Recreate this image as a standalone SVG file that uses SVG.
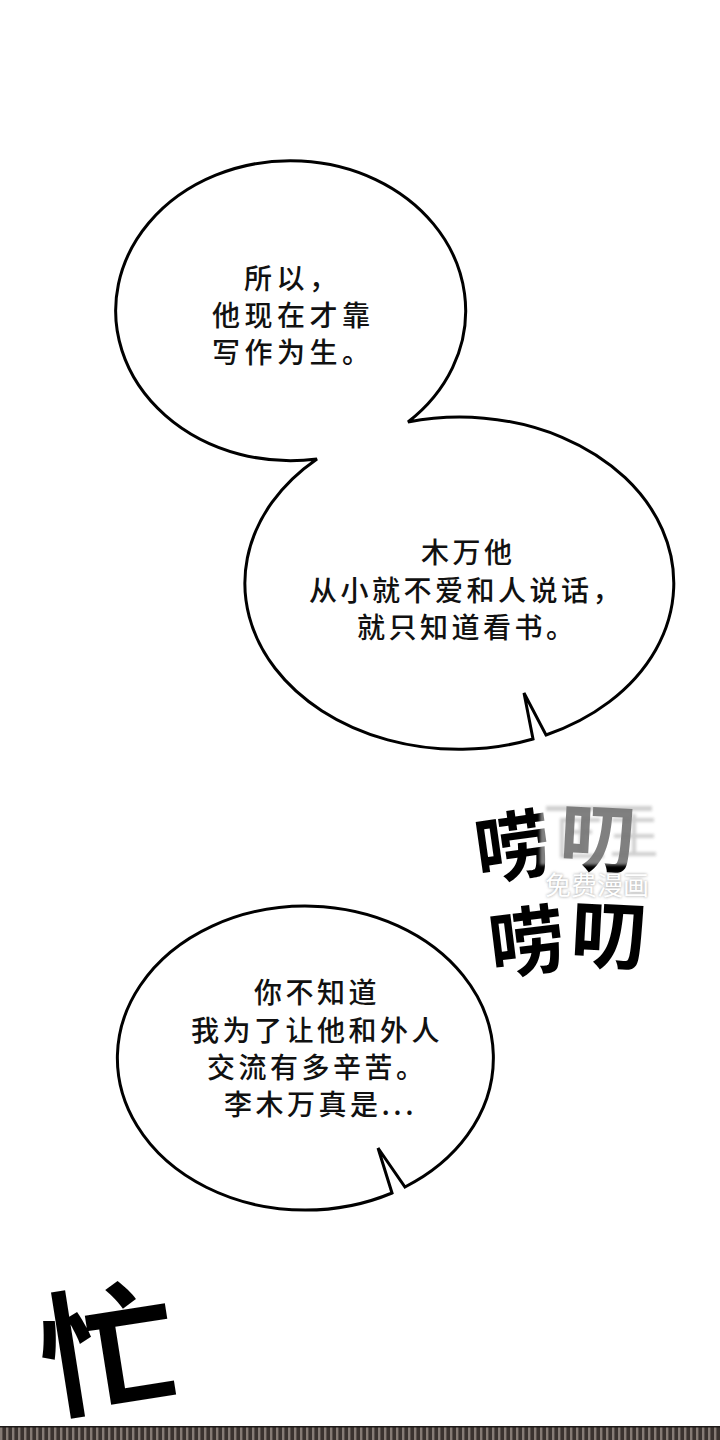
<svg xmlns="http://www.w3.org/2000/svg" width="720" height="1440" viewBox="0 0 720 1440">
<defs>
<style>
.bubble{fill:#fff;stroke:#000;stroke-width:3;stroke-linejoin:miter}
.txt{font-family:"Noto Sans CJK SC","Noto Sans CJK JP",sans-serif;font-size:28px;font-weight:500;letter-spacing:3.5px;fill:#111}
.sfx{font-family:"Noto Sans CJK SC","Noto Sans CJK JP",sans-serif;font-weight:700;fill:#000;stroke:#fff;stroke-width:3;paint-order:stroke;text-anchor:middle}
.wm{font-family:"Noto Sans CJK SC","Noto Sans CJK JP",sans-serif;font-size:26px}
</style>
<pattern id="stripes" width="6" height="14" patternUnits="userSpaceOnUse">
<rect width="6" height="14" fill="#3a322f"/>
<rect x="0" width="2.4" height="14" fill="#857a74"/>
</pattern>
<filter id="blur" x="-20%" y="-20%" width="140%" height="140%">
<feGaussianBlur stdDeviation="1.6"/>
</filter>
</defs>
<rect width="720" height="1440" fill="#fff"/>

<g id="bubble-pair">
<path class="bubble" d="M408,422 A175,150 0 1 0 317,459 A214,166 0 0 0 533,739 L524,693 L546,735 A214,166 0 0 0 408,422 Z"/>
<g id="bubble1-text" class="txt" style="letter-spacing:4.5px">
<text x="244" y="289">所以，</text>
<text x="212" y="326">他现在才靠</text>
<text x="212" y="363">写作为生。</text>
</g>
<g id="bubble2-text" class="txt">
<text x="421" y="563">木万他</text>
<text x="309" y="601">从小就不爱和人说话，</text>
<text x="357" y="638">就只知道看书。</text>
</g>
</g>

<g id="bubble3">
<path class="bubble" d="M405,1187 A188,152 0 1 0 392,1193 L378,1148 Z"/>
<g class="txt">
<text x="254" y="1003">你不知道</text>
<text x="191" y="1041">我为了让他和外人</text>
<text x="207" y="1078">交流有多辛苦。</text>
<text x="224" y="1115">李木万真是...</text>
</g>
</g>

<g id="bottom-strip">
<rect x="0" y="1427" width="720" height="13" fill="url(#stripes)"/>
<rect x="0" y="1426" width="720" height="1.5" fill="#1e1a19"/>
</g>

<g id="sfx-laodao">
<text class="sfx" x="513" y="875" font-size="76" transform="rotate(-8 513 847)">唠</text>
<text class="sfx" x="598" y="866" font-size="76" transform="rotate(3 598 838)">叨</text>
<text class="sfx" x="527" y="970" font-size="76" transform="rotate(-7 527 942)">唠</text>
<text class="sfx" x="609" y="963" font-size="76" transform="rotate(3 609 935)">叨</text>
</g>

<g id="sfx-mang">
<text class="sfx" x="108" y="1400" font-size="136" stroke-width="5" transform="rotate(-9 108 1352)">忙</text>
</g>

<g id="watermark">
<rect x="540" y="803" width="118" height="62" fill="#fff" opacity="0.5" filter="url(#blur)"/>
<g opacity="0.35" fill="#777" filter="url(#blur)">
<rect x="546" y="806" width="106" height="5"/>
<rect x="560" y="818" width="4" height="40"/>
<rect x="560" y="818" width="40" height="4"/>
<rect x="560" y="854" width="44" height="4"/>
<rect x="570" y="830" width="22" height="4"/>
<rect x="579" y="822" width="4" height="30"/>
<rect x="612" y="818" width="42" height="4"/>
<rect x="614" y="834" width="40" height="4"/>
<rect x="612" y="852" width="44" height="4"/>
<rect x="632" y="814" width="4" height="42"/>
</g>
<text class="wm" x="545" y="895" fill="#666" opacity="0.7" filter="url(#blur)">免费漫画</text>
<text class="wm" x="545" y="895" fill="#fff">免费漫画</text>
</g>
</svg>
